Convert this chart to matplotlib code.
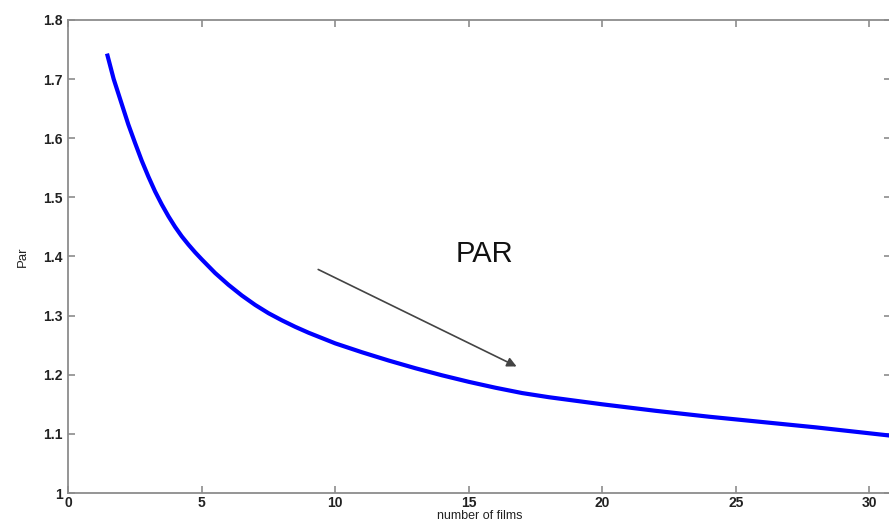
import matplotlib.pyplot as plt

# values
films = [1.45, 1.7, 2.0, 2.25, 2.5, 2.75, 3.0, 3.25, 3.5, 3.75, 4.0, 4.25,
         4.5, 4.75, 5.0, 5.5, 6.0, 6.5, 7.0, 7.5, 8.0, 8.5, 9.0, 9.5, 10.0,
         11.0, 12.0, 13.0, 14.0, 15.0, 16.0, 17.0, 18.0, 19.0, 20.0, 22.0,
         24.0, 26.0, 28.0, 30.0, 31.0]
par = [1.743, 1.700, 1.658, 1.623, 1.592, 1.562, 1.535, 1.510, 1.488, 1.468,
       1.450, 1.434, 1.420, 1.407, 1.395, 1.372, 1.352, 1.334, 1.318, 1.304,
       1.292, 1.281, 1.271, 1.262, 1.253, 1.238, 1.224, 1.211, 1.199, 1.188,
       1.178, 1.169, 1.162, 1.156, 1.150, 1.139, 1.129, 1.120, 1.111, 1.101,
       1.096]
x_ticks = [0, 5, 10, 15, 20, 25, 30]
y_ticks = [1, 1.1, 1.2, 1.3, 1.4, 1.5, 1.6, 1.7, 1.8]
y_labels = ["1", "1.1", "1.2", "1.3", "1.4", "1.5", "1.6", "1.7", "1.8"]

plt.rcParams['font.family'] = ['Liberation Sans', 'DejaVu Sans']

fig = plt.figure(figsize=(8.89, 5.26), dpi=100)
ax = fig.add_axes([0.0768, 0.0627, 0.9254, 0.8995])

ax.plot(films, par, color="#0000ff", lw=3.0, solid_joinstyle="round",
        solid_capstyle="butt")

ax.set_xlim(0, 30.81)
ax.set_ylim(1, 1.8)
ax.set_xticks(x_ticks)
ax.set_yticks(y_ticks, labels=y_labels)

for s in ax.spines.values():
    s.set_color("#8c8c8c")
    s.set_linewidth(1.3)
ax.tick_params(direction="in", length=5, width=1.2, color="#8c8c8c",
               top=True, right=True, labelsize=10, labelcolor="#222222")
ax.tick_params(axis="x", pad=2.5)
ax.tick_params(axis="y", pad=4)
for lab in ax.get_xticklabels() + ax.get_yticklabels():
    lab.set_fontweight("bold")

ax.set_xlabel("number of films", fontsize=9, labelpad=0, color="#222222")
ax.set_ylabel("Par", fontsize=9.5, labelpad=10, color="#222222")

ax.annotate("", xy=(16.79, 1.214), xytext=(9.36, 1.378),
            arrowprops=dict(arrowstyle="-|>", color="#444444", lw=1.2,
                            mutation_scale=14, shrinkA=0, shrinkB=0))
ax.text(15.57, 1.404, "PAR", fontsize=21, ha="center", va="center",
        color="#111111")

plt.savefig("out.png", dpi=100)
